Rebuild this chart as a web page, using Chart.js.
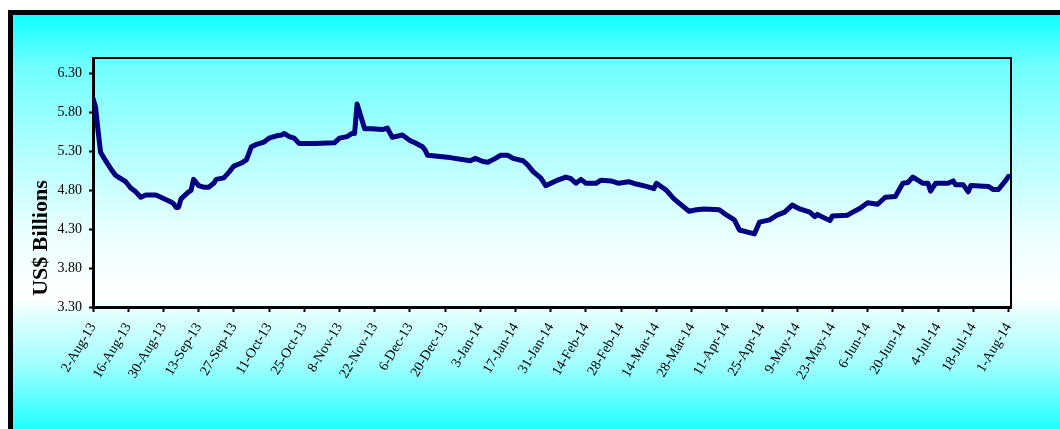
<!DOCTYPE html>
<html>
<head>
<meta charset="utf-8">
<script src="https://cdn.jsdelivr.net/npm/chart.js@4"></script>
<style>
    html, body { margin: 0; padding: 0; background: #ffffff; overflow: hidden; }
    #frame {
        position: absolute; left: 8px; top: 10px; width: 1080px; height: 440px;
        border: 5px solid #000000;
        background: linear-gradient(to bottom, #10ffff 0px, #6fffff 50px, #b5ffff 140px, #ebffff 220px, #ffffff 285px, #e0ffff 300px, #a0ffff 350px, #20ffff 414px);
    }
    #chart { position: absolute; left: 0; top: 0; }
</style>
</head>
<body>
<div id="frame"></div>
<canvas id="chart" width="1060" height="429"></canvas>
<script>
// days since 2-Aug-13 and reserves in US$ billions
const days = [0, 1, 2, 3, 5, 7, 9, 13, 15, 17, 19, 21, 25, 27, 31, 32, 33, 34, 35, 38, 39, 40, 42, 44, 46, 48, 49,
    52, 54, 56, 59, 61, 63, 65, 68, 70, 73, 75, 76, 78, 80, 82, 88, 96, 98, 101, 103, 104, 105, 108, 111, 115, 117,
    119, 123, 126, 128, 131, 132, 133, 142, 150, 152, 155, 157, 160, 162, 165, 167, 171, 173, 175, 178, 180, 184,
    188, 190, 192, 194, 196, 200, 202, 206, 209, 213, 216, 220, 223, 224, 228, 231, 234, 237, 240, 243, 249, 252,
    255, 257, 263, 265, 269, 272, 275, 278, 281, 285, 287, 288, 293, 294, 300, 301, 305, 308, 312, 315, 319, 322,
    324, 326, 330, 332, 333, 335, 340, 342, 343, 346, 348, 349, 356, 358, 360, 363, 364];
const reserves = [5.98, 5.87, 5.57, 5.29, 5.18, 5.08, 4.99, 4.91, 4.83, 4.78, 4.71, 4.74, 4.74, 4.71, 4.65, 4.63,
    4.58, 4.58, 4.69, 4.78, 4.80, 4.94, 4.86, 4.84, 4.84, 4.89, 4.94, 4.96, 5.03, 5.11, 5.15, 5.19, 5.36, 5.39,
    5.42, 5.47, 5.50, 5.51, 5.53, 5.49, 5.47, 5.40, 5.40, 5.41, 5.47, 5.49, 5.53, 5.53, 5.91, 5.59, 5.59, 5.58,
    5.60, 5.48, 5.51, 5.44, 5.41, 5.36, 5.32, 5.25, 5.22, 5.18, 5.21, 5.17, 5.16, 5.21, 5.25, 5.25, 5.21, 5.18,
    5.12, 5.04, 4.96, 4.86, 4.92, 4.97, 4.95, 4.89, 4.94, 4.89, 4.89, 4.93, 4.92, 4.89, 4.91, 4.88, 4.85, 4.82,
    4.89, 4.80, 4.69, 4.61, 4.53, 4.55, 4.56, 4.55, 4.48, 4.42, 4.29, 4.24, 4.39, 4.42, 4.48, 4.52, 4.61, 4.56,
    4.52, 4.46, 4.49, 4.41, 4.47, 4.48, 4.50, 4.57, 4.64, 4.62, 4.71, 4.72, 4.89, 4.90, 4.97, 4.89, 4.89, 4.79,
    4.89, 4.89, 4.92, 4.87, 4.87, 4.78, 4.86, 4.85, 4.81, 4.81, 4.93, 4.98];

const tickLabels = ['2-Aug-13', '16-Aug-13', '30-Aug-13', '13-Sep-13', '27-Sep-13', '11-Oct-13', '25-Oct-13',
    '8-Nov-13', '22-Nov-13', '6-Dec-13', '20-Dec-13', '3-Jan-14', '17-Jan-14', '31-Jan-14', '14-Feb-14',
    '28-Feb-14', '14-Mar-14', '28-Mar-14', '11-Apr-14', '25-Apr-14', '9-May-14', '23-May-14', '6-Jun-14',
    '20-Jun-14', '4-Jul-14', '18-Jul-14', '1-Aug-14'];
const yTicks = [3.30, 3.80, 4.30, 4.80, 5.30, 5.80, 6.30];

const serif = '"Liberation Serif", "Times New Roman", serif';

// top and right border of the plot area plus the rotated axis title
const framePlugin = {
    id: 'framePlugin',
    afterDraw(chart) {
        const ctx = chart.ctx;
        const a = chart.chartArea;
        ctx.save();
        ctx.strokeStyle = '#000000';
        ctx.lineWidth = 2;
        ctx.beginPath();
        ctx.moveTo(a.left, a.top);
        ctx.lineTo(a.right, a.top);
        ctx.lineTo(a.right, a.bottom);
        ctx.stroke();
        ctx.translate(41, 238);
        ctx.rotate(-Math.PI / 2);
        ctx.fillStyle = '#000000';
        ctx.font = 'bold 22px ' + serif;
        ctx.textAlign = 'center';
        ctx.textBaseline = 'middle';
        ctx.fillText('US$ Billions', 0, 0);
        ctx.restore();
    }
};

const ctx = document.getElementById('chart').getContext('2d');
new Chart(ctx, {
    type: 'line',
    data: {
        datasets: [{
            data: days.map((d, i) => ({x: d, y: reserves[i]})),
            borderColor: '#000080',
            borderWidth: 5,
            borderJoinStyle: 'round',
            borderCapStyle: 'round',
            pointRadius: 0,
            tension: 0,
            fill: false
        }]
    },
    options: {
        responsive: false,
        animation: false,
        layout: {padding: {left: 0, top: 58, right: 49, bottom: 0}},
        plugins: {legend: {display: false}, tooltip: {enabled: false}},
        scales: {
            x: {
                type: 'linear',
                min: 0,
                max: 365,
                afterBuildTicks: scale => { scale.ticks = tickLabels.map((t, i) => ({value: i * 14})); },
                afterFit: scale => { scale.height = 122; },
                grid: {drawOnChartArea: false, drawTicks: true, tickLength: 5, tickColor: '#000000', tickWidth: 2},
                border: {display: true, color: '#000000', width: 3},
                ticks: {
                    autoSkip: false,
                    minRotation: 59,
                    maxRotation: 59,
                    padding: 8,
                    color: '#000000',
                    font: {family: serif, size: 14},
                    callback: (v) => tickLabels[Math.round(v / 14)]
                }
            },
            y: {
                min: 3.3,
                max: 6.5,
                afterBuildTicks: scale => { scale.ticks = yTicks.map(v => ({value: v})); },
                afterFit: scale => { scale.width = 93; },
                grid: {drawOnChartArea: false, drawTicks: true, tickLength: 4, tickColor: '#000000', tickWidth: 2},
                border: {display: true, color: '#000000', width: 3},
                ticks: {
                    padding: 7,
                    color: '#000000',
                    font: {family: serif, size: 14},
                    callback: (v) => v.toFixed(2)
                }
            }
        }
    },
    plugins: [framePlugin]
});
</script>
</body>
</html>
